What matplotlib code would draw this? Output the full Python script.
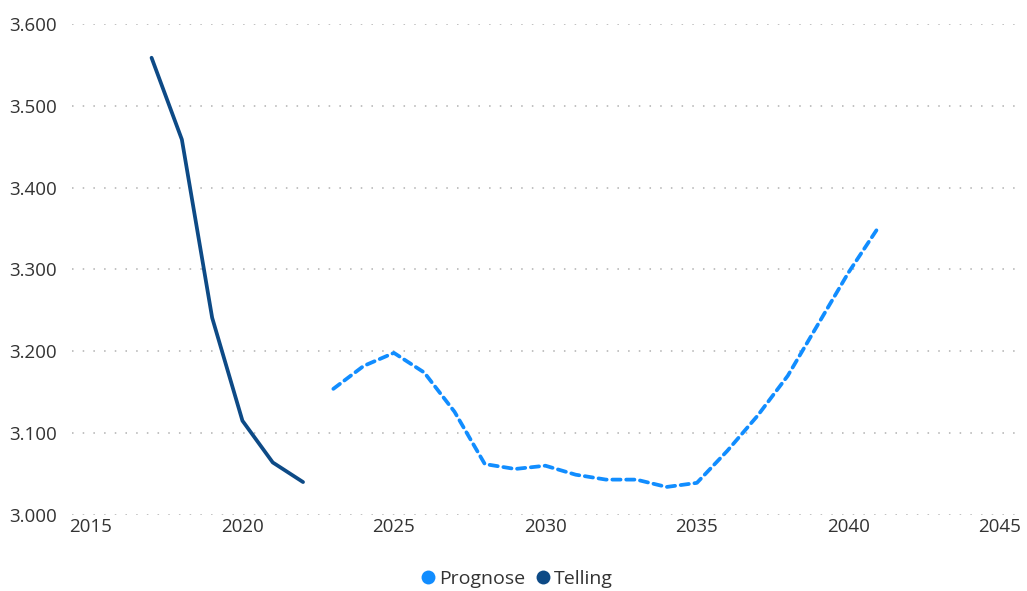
import numpy as np
import matplotlib.pyplot as plt
from matplotlib.lines import Line2D
from matplotlib.ticker import FuncFormatter

# data
telling_years = [2017, 2018, 2019, 2020, 2021, 2022]
telling_vals = [3.559, 3.459, 3.241, 3.115, 3.064, 3.040]

prognose_years = list(range(2023, 2042))
prognose_vals = [3.154, 3.182, 3.198, 3.174, 3.126, 3.062, 3.056, 3.060, 3.049,
                 3.043, 3.043, 3.034, 3.039, 3.078, 3.121, 3.170, 3.233, 3.296, 3.352]

xticks = [2015, 2020, 2025, 2030, 2035, 2040, 2045]
yticks = [3.0, 3.1, 3.2, 3.3, 3.4, 3.5, 3.6]

plt.rcParams['font.family'] = ['Open Sans', 'DejaVu Sans']

fig = plt.figure(figsize=(10.27, 5.91), dpi=100)
ax = fig.add_axes([0.070, 0.129, 0.923, 0.830])

c_prog = '#118DFF'
c_tel = '#0D4A86'

ax.plot(telling_years, telling_vals, color=c_tel, lw=2.7, solid_capstyle='round',
        solid_joinstyle='round')
ax.plot(prognose_years, prognose_vals, color=c_prog, lw=2.7,
        linestyle=(0, (2.2, 1.5)), dash_capstyle='round', dash_joinstyle='round')

ax.set_xlim(2014.37, 2045.66)
ax.set_ylim(3.0, 3.6)
ax.set_xticks(xticks)
ax.set_yticks(yticks)
ax.yaxis.set_major_formatter(FuncFormatter(lambda v, p: f'{v:.3f}'))

ax.grid(axis='y', color='#B0B0B0', linestyle=(0, (1, 6)), lw=1.1)
ax.set_axisbelow(True)
for s in ax.spines.values():
    s.set_visible(False)
ax.tick_params(length=0, labelsize=13.5, colors='#333333')
ax.tick_params(axis='y', pad=11)
ax.tick_params(axis='x', pad=2)

handles = [Line2D([], [], marker='o', color='none', markerfacecolor=c_prog,
                  markeredgecolor='none', markersize=10, label='Prognose'),
           Line2D([], [], marker='o', color='none', markerfacecolor=c_tel,
                  markeredgecolor='none', markersize=10, label='Telling')]
fig.legend(handles=handles, loc='center', bbox_to_anchor=(0.502, 0.021), ncol=2,
           frameon=False, fontsize=14, handletextpad=0.05, columnspacing=0.4,
           handlelength=1.0, labelcolor='#333333')

fig.savefig('out.png', dpi=100)
